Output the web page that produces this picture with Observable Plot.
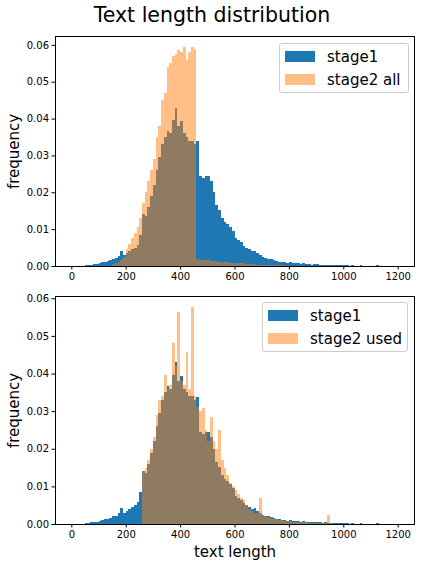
<!DOCTYPE html>
<html><head><meta charset="utf-8">
<script src="https://cdn.jsdelivr.net/npm/d3@7"></script>
<script src="https://cdn.jsdelivr.net/npm/@observablehq/plot@0.6"></script>
<style>
body{margin:0;background:#fff;font-family:"DejaVu Sans",sans-serif;}
#fig{position:relative;width:424px;height:568px;overflow:hidden;background:#fff}
.title{position:absolute;left:0;width:424px;top:3px;text-align:center;font-size:20.5px;color:#000;white-space:nowrap}
.panel{position:absolute;left:0}
.legend{position:absolute;background:rgba(255,255,255,0.8);border:1px solid #cccccc;border-radius:3px;box-sizing:border-box}
.item{position:absolute;font-size:15px;color:#000;white-space:nowrap;line-height:18px}
.sw{display:inline-block;width:30px;height:11px;vertical-align:middle;margin-right:12px;position:relative;top:-1px}
</style></head>
<body>
<div id="fig">
  <div class="title">Text length distribution</div>
  <div id="p1" class="panel" style="top:26px"></div>
  <div id="p2" class="panel" style="top:290px"></div>
</div>
<script>
const binWidth = 10;
const xTicks = [0, 200, 400, 600, 800, 1000, 1200];
const yTicks = [0, 0.01, 0.02, 0.03, 0.04, 0.05, 0.06];
const seriesNames = ["stage1", "stage2 all", "stage2 used"];

const stage1 = [
  0,0,0,0,0, 0.0002,0.0003,0.0004,0.0005,0.0006,
  0.0008,0.001,0.0012,0.0014,0.0017, 0.002,0.0022,0.0028,0.0042,0.003,
  0.0035,0.004,0.0045,0.005,0.0058, 0.0084,0.014,0.0135,0.016,0.019,
  0.022,0.026,0.0296,0.033,0.035, 0.0367,0.036,0.0395,0.043,0.038,
  0.0394,0.036,0.035,0.034,0.034, 0.033,0.0338,0.0245,0.024,0.0245,
  0.0245,0.023,0.02,0.0165,0.0152, 0.013,0.012,0.0115,0.0105,0.0095,
  0.0075,0.007,0.0065,0.0055,0.005, 0.0045,0.004,0.0042,0.0035,0.003,
  0.0025,0.0022,0.002,0.0018,0.0016, 0.0013,0.0012,0.0011,0.001,0.0009,
  0.0011,0.0008,0.0009,0.0007,0.0006, 0.0007,0.0005,0.0006,0.0004,0.0005,
  0.0005,0.0004,0.0003,0.0004,0.0003, 0.0003,0.0002,0.0003,0.0002,0.0002,
  0.0002,0.0002,0.0001,0.0002,0.0001, 0.0001,0.0002,0.0001,0.0001,0.0001,
  0.0001,0.0001,0.0002,0.0001,0.0001, 0.0001,0.0001,0.0001,0.0001,0.0001
];
const stage2All = [
  0,0,0,0,0, 0,0,0,0,0,
  0,0,0,0,0, 0.0005,0.0007,0.001,0.0015,0.0025,
  0.0045,0.006,0.0075,0.009,0.0105, 0.013,0.017,0.02,0.023,0.026,
  0.029,0.035,0.038,0.045,0.047, 0.054,0.055,0.057,0.0575,0.0585,
  0.058,0.0594,0.056,0.058,0.0594, 0.059,0.0018,0.0017,0.0016,0.0015,
  0.0015,0.0014,0.0013,0.0013,0.0012, 0.0011,0.001,0.001,0.0009,0.0009,
  0.0008,0.0008,0.0007,0.0007,0.0006, 0.0006,0.0005,0.0005,0.0004,0.0004,
  0.0004,0.0003,0.0003,0.0003,0.0002, 0.0002,0.0002,0.0002,0.0001,0.0001,
  0,0,0,0,0, 0,0,0,0,0,
  0,0,0,0,0, 0,0,0,0,0,
  0,0,0,0,0, 0,0,0,0,0,
  0,0,0,0,0, 0,0,0,0,0
];
const stage2Used = [
  0,0,0,0,0, 0,0,0,0,0,
  0,0,0,0,0, 0,0,0,0,0,
  0,0,0,0,0, 0,0.014,0.015,0.017,0.02,
  0.023,0.029,0.033,0.034,0.0396, 0.036,0.037,0.048,0.042,0.0564,
  0.038,0.037,0.0458,0.036,0.0577, 0.034,0.031,0.03,0.0308,0.025,
  0.022,0.0285,0.022,0.02,0.025, 0.017,0.015,0.013,0.011,0.01,
  0.009,0.008,0.007,0.0064,0.005, 0.004,0.0035,0.003,0.0028,0.007,
  0.0025,0.002,0.0018,0.0015,0.0013, 0.0012,0.001,0.001,0.0009,0.0008,
  0.0007,0.0006,0.0006,0.0005,0.0005, 0.0004,0.0004,0.0003,0.0003,0.0003,
  0.0003,0.0002,0.0002,0.0002,0.0025, 0.0002,0.0001,0.0001,0.0001,0.0001,
  0.0001,0.0001,0.0001,0.0001,0.0001, 0,0,0,0,0,
  0,0,0,0,0, 0,0,0,0,0
];

const BLUE = "#1f77b4", ORANGE = "#ff7f0e";
const toBins = arr => arr.map((v, i) => ({x1: i * binWidth, x2: (i + 1) * binWidth, y: v})).filter(d => d.y > 0);

function panel({second, height, mt, mb, ymax, xlabel}) {
  const marks = [
    Plot.rectY(toBins(stage1), {x1: "x1", x2: "x2", y: "y", fill: BLUE, shapeRendering: "crispEdges"}),
    Plot.rectY(toBins(second), {x1: "x1", x2: "x2", y: "y", fill: ORANGE, fillOpacity: 0.5, shapeRendering: "crispEdges"}),
    Plot.frame({stroke: "#000", strokeWidth: 1}),
    Plot.axisX({ticks: xTicks, tickSize: 3.5, tickPadding: 3, fontSize: 10, label: null, tickFormat: d3.format("d")}),
    Plot.axisY({ticks: yTicks, tickSize: 3.5, tickPadding: 3, fontSize: 10, label: null, tickFormat: d3.format(".2f")}),
    Plot.text(["frequency"], {frameAnchor: "left", rotate: -90, dx: -37, textAnchor: "middle", lineAnchor: "bottom", fontSize: 15, fill: "#000"})
  ];
  if (xlabel) marks.push(Plot.text([xlabel], {frameAnchor: "bottom", dy: 32, textAnchor: "middle", lineAnchor: "bottom", fontSize: 15, fill: "#000"}));
  return Plot.plot({
    width: 424, height, marginLeft: 55, marginRight: 10, marginTop: mt, marginBottom: mb,
    style: {fontFamily: "DejaVu Sans", fontSize: "10px", color: "#000", background: "transparent", overflow: "visible"},
    x: {domain: [-60, 1260]},
    y: {domain: [0, ymax]},
    marks
  });
}

document.getElementById("p1").appendChild(panel({second: stage2All, height: 264, mt: 10, mb: 24, ymax: 0.0624}));
document.getElementById("p2").appendChild(panel({second: stage2Used, height: 278, mt: 6, mb: 44, ymax: 0.0606, xlabel: "text length"}));

function legend(left, top, w, h, names) {
  const fig = document.getElementById("fig");
  const box = document.createElement("div");
  box.className = "legend";
  Object.assign(box.style, {left: left + "px", top: top + "px", width: w + "px", height: h + "px"});
  fig.appendChild(box);
  names.forEach((n, i) => {
    const it = document.createElement("div");
    it.className = "item";
    Object.assign(it.style, {left: (left + 6) + "px", top: (top + 5 + i * 23) + "px"});
    const sw = document.createElement("span");
    sw.className = "sw";
    sw.style.background = i === 0 ? BLUE : ORANGE;
    if (i === 1) sw.style.opacity = 0.5;
    it.appendChild(sw);
    it.appendChild(document.createTextNode(n));
    fig.appendChild(it);
  });
}
legend(279, 43, 130, 50, [seriesNames[0], seriesNames[1]]);
legend(262, 302, 146, 50, [seriesNames[0], seriesNames[2]]);
</script>
</body></html>
